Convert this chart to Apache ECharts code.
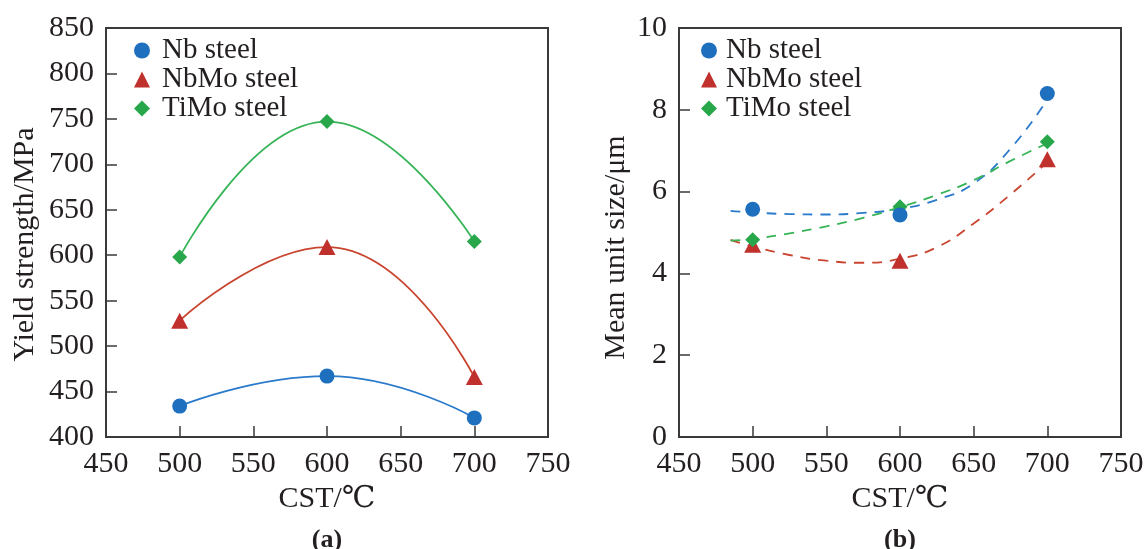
<!DOCTYPE html>
<html>
<head>
<meta charset="utf-8">
<script src="https://cdn.jsdelivr.net/npm/echarts@6/dist/echarts.min.js"></script>
<style>
  html, body { margin: 0; padding: 0; background: #ffffff; }
  #chart { width: 1148px; height: 549px; }
</style>
</head>
<body>
<div id="chart"></div>
<script>
// Coiling temperature (CST, °C) of the three steels
const cst = [500, 600, 700];

// (a) Yield strength, MPa
const yieldNb = [434, 467, 421];
const yieldNbMo = [528, 609, 466];
const yieldTiMo = [598, 747, 615];

// (b) Mean unit size, μm
const sizeNb = [5.57, 5.43, 8.40];
const sizeNbMo = [4.70, 4.31, 6.79];
const sizeTiMo = [4.82, 5.63, 7.22];

// (b) dashed trend curves
const fitCst = [485, 500, 525, 550, 575, 600, 625, 650, 675, 700];
const sizeNbFit = [5.53, 5.49, 5.45, 5.44, 5.48, 5.58, 5.80, 6.20, 7.05, 8.25];
const sizeNbMoFit = [4.82, 4.66, 4.45, 4.31, 4.26, 4.36, 4.64, 5.22, 5.93, 6.72];
const sizeTiMoFit = [4.80, 4.84, 4.98, 5.15, 5.36, 5.62, 5.92, 6.28, 6.75, 7.18];

const seriesNames = ['Nb steel', 'NbMo steel', 'TiMo steel'];
const panelTags = ['(a)', '(b)'];
const xName = 'CST/℃';
const yNames = ['Yield strength/MPa', 'Mean unit size/μm'];

const FONT = '"Liberation Serif", "DejaVu Serif", "Noto Sans CJK SC", serif';
const INK = '#231f20';
const AXIS = '#3a3a3a';
const markColor = { nb: '#1f6fbf', nbmo: '#c0302c', timo: '#27a64a' };
const lineColor = { nb: '#2a7acb', nbmo: '#c9452f', timo: '#36b457' };

const pairs = (xs, ys) => xs.map((x, i) => [x, ys[i]]);

const gridBox = [
  { left: 106, top: 28, width: 442, height: 409 },
  { left: 679, top: 28, width: 442, height: 409 }
];

function xAxisFor(idx) {
  return {
    type: 'value', gridIndex: idx, min: 450, max: 750, interval: 50,
    name: xName, nameLocation: 'middle', nameGap: 44,
    nameTextStyle: { fontFamily: FONT, fontSize: 30, color: INK },
    axisLine: { show: true, lineStyle: { color: AXIS, width: 2 } },
    axisTick: { show: true, inside: true, length: 11, lineStyle: { color: AXIS, width: 1.5 } },
    axisLabel: { margin: 12, fontFamily: FONT, fontSize: 30, color: INK },
    splitLine: { show: false }
  };
}

function yAxisFor(idx, min, max, interval, gap, pad) {
  return {
    type: 'value', gridIndex: idx, min: min, max: max, interval: interval,
    name: yNames[idx], nameLocation: 'middle', nameGap: gap, nameRotate: 90,
    nameTextStyle: { fontFamily: FONT, fontSize: 30, color: INK, padding: [0, pad, 0, 0] },
    axisLine: { show: true, lineStyle: { color: AXIS, width: 2 } },
    axisTick: { show: true, inside: true, length: 11, lineStyle: { color: AXIS, width: 1.5 } },
    axisLabel: { margin: 12, fontFamily: FONT, fontSize: 30, color: INK },
    splitLine: { show: false }
  };
}

function legendFor(left, textPad) {
  return {
    orient: 'vertical', left: left, top: 36, padding: 0,
    itemWidth: 16, itemHeight: 16, itemGap: 0,
    textStyle: { fontFamily: FONT, fontSize: 29, color: INK, lineHeight: 29, padding: [0, 0, 0, textPad] },
    data: seriesNames,
    selectedMode: false
  };
}

function curve(name, idx, data, color, dashed) {
  return {
    name: name, type: 'line', xAxisIndex: idx, yAxisIndex: idx,
    data: data, smooth: true, showSymbol: false, symbol: 'none',
    lineStyle: { color: color, width: 1.8, type: dashed ? [10, 8] : 'solid' },
    z: 2, silent: true
  };
}

function marks(name, idx, data, symbol, size, color, z) {
  return {
    name: name, type: 'scatter', xAxisIndex: idx, yAxisIndex: idx,
    data: data, symbol: symbol, symbolSize: size,
    itemStyle: { color: color, opacity: 1 }, z: z
  };
}

const option = {
  backgroundColor: '#ffffff',
  animation: false,
  grid: gridBox.map(g => Object.assign({ show: true, borderColor: AXIS, borderWidth: 2, containLabel: false }, g)),
  xAxis: [xAxisFor(0), xAxisFor(1)],
  yAxis: [
    yAxisFor(0, 400, 850, 50, 66, 24),
    yAxisFor(1, 0, 10, 2, 48, 30)
  ],
  legend: [legendFor(134, 7), legendFor(701, 4)],
  series: [
    // (a) fitted curves through the measured points
    curve('Nb fit a', 0, pairs(cst, yieldNb), lineColor.nb, false),
    curve('NbMo fit a', 0, pairs(cst, yieldNbMo), lineColor.nbmo, false),
    curve('TiMo fit a', 0, pairs(cst, yieldTiMo), lineColor.timo, false),
    marks(seriesNames[0], 0, pairs(cst, yieldNb), 'circle', 15, markColor.nb, 5),
    marks(seriesNames[1], 0, pairs(cst, yieldNbMo), 'triangle', [17, 16], markColor.nbmo, 5),
    marks(seriesNames[2], 0, pairs(cst, yieldTiMo), 'diamond', 15, markColor.timo, 5),

    // (b) dashed trend curves and measured points
    curve('Nb fit b', 1, pairs(fitCst, sizeNbFit), lineColor.nb, true),
    curve('NbMo fit b', 1, pairs(fitCst, sizeNbMoFit), lineColor.nbmo, true),
    curve('TiMo fit b', 1, pairs(fitCst, sizeTiMoFit), lineColor.timo, true),
    marks(seriesNames[1], 1, pairs(cst, sizeNbMo), 'triangle', [17, 16], markColor.nbmo, 4),
    marks(seriesNames[2], 1, pairs(cst, sizeTiMo), 'diamond', 15, markColor.timo, 5),
    marks(seriesNames[0], 1, pairs(cst, sizeNb), 'circle', 15, markColor.nb, 6)
  ],
  graphic: panelTags.map((tag, i) => ({
    type: 'text',
    x: gridBox[i].left + gridBox[i].width / 2,
    y: 540,
    style: {
      text: tag,
      font: 'bold 26px ' + FONT,
      fill: INK,
      align: 'center',
      verticalAlign: 'middle',
      textAlign: 'center',
      textVerticalAlign: 'middle'
    }
  }))
};

const chart = echarts.init(document.getElementById('chart'), null, { renderer: 'canvas' });
chart.setOption(option);
</script>
</body>
</html>
